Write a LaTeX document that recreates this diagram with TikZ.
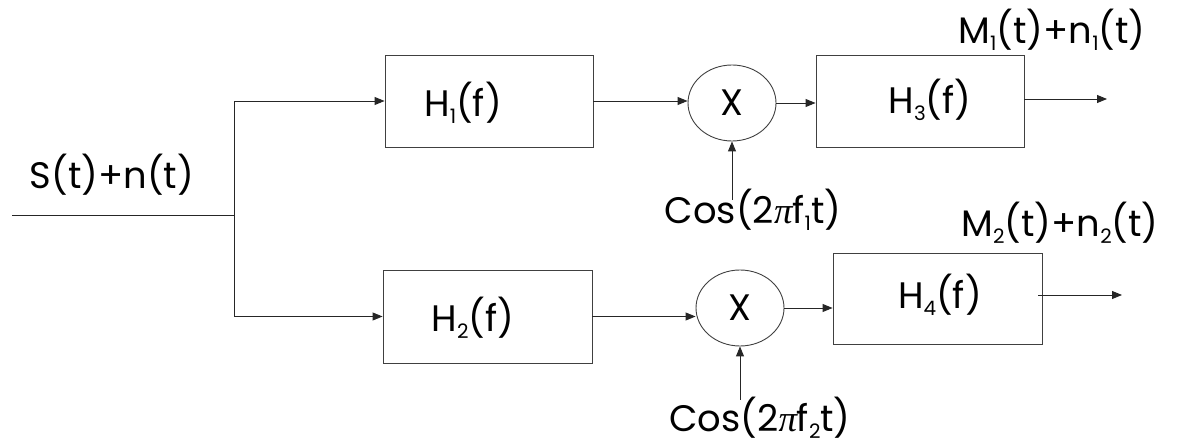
\documentclass[tikz,border=0pt]{standalone}
\usepackage{fontspec}
\setmainfont{Poppins}
\newfontfamily\pifont{Liberation Serif}
\usetikzlibrary{shapes.geometric,arrows.meta}
\newcommand\mysub[1]{\raisebox{-0.2em}{\fontsize{20}{24}\selectfont #1}}
\newcommand\mypi{{\pifont\itshape π}}
\begin{document}
\begin{tikzpicture}[x=1bp,y=-1bp,
  every node/.style={font=\fontsize{37}{44}\selectfont, inner sep=0pt},
  blockbox/.style={draw=black!75, line width=0.9bp},
  mixer/.style={draw=black!75, line width=0.9bp, ellipse, minimum width=88bp, minimum height=76bp},
  conn/.style={draw=black!85, line width=0.9bp},
  arr/.style={conn, -{Triangle[length=10bp,width=8bp]}}]
\useasboundingbox (0,0) rectangle (1182,448);
% blocks
\node[blockbox, minimum width=208bp, minimum height=92bp] (h1) at (489,101) {};
\node[blockbox, minimum width=209bp, minimum height=93bp] (h2) at (487.5,316.5) {};
\node[blockbox, minimum width=208bp, minimum height=92bp] (h3) at (920,101) {};
\node[blockbox, minimum width=209bp, minimum height=91bp] (h4) at (937.5,298.5) {};
\node (t1) at (463,103) {H\mysub{1}(f)};
\node (t2) at (473,318) {H\mysub{2}(f)};
\node (t3) at (930,100) {H\mysub{3}(f)};
\node (t4) at (940,295) {H\mysub{4}(f)};
% mixers
\node[mixer] (m1) at (732,103) {X};
\node[mixer] (m2) at (740,308) {X};
% labels
\node (lin) at (112,175) {S(t)+n(t)};
\node (lo1) at (1052,30) {M\mysub{1}(t)+n\mysub{1}(t)};
\node (lo2) at (1060,223) {M\mysub{2}(t)+n\mysub{2}(t)};
\node (lc1) at (753,210) {Cos(2\mypi f\mysub{1}t)};
\node (lc2) at (760,418) {Cos(2\mypi f\mysub{2}t)};
% coordinates
\coordinate (in) at (12,215);
\coordinate (j) at (234,215);
\coordinate (c1) at (732,200);
\coordinate (c2) at (740,400);
\coordinate (s4) at (1038,295);
\coordinate (o1) at (1107,99);
\coordinate (o2) at (1122,295);
% connectors
\draw[conn] (in) -- (j);
\draw[arr] (j) |- (h1.west);
\draw[arr] (j) |- (h2.west);
\draw[arr] (h1.east) -- (h1.east -| m1.west);
\draw[arr] (h2.east) -- (h2.east -| m2.west);
\draw[arr] (m1.east) -- (m1.east -| h3.west);
\draw[arr] (m2.east) -- (m2.east -| h4.west);
\draw[arr] (c1) -- (m1.south);
\draw[arr] (c2) -- (m2.south);
\draw[arr] (h3.east |- o1) -- (o1);
\draw[arr] (s4) -- (o2);
\end{tikzpicture}
\end{document}
